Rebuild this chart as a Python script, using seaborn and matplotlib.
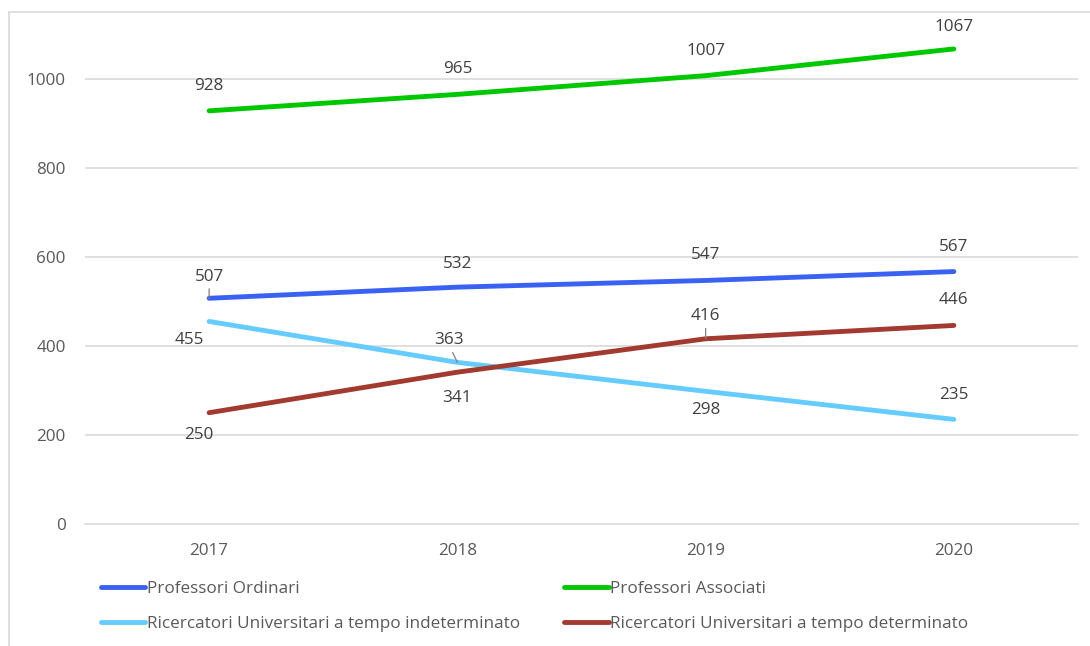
import numpy as np
import pandas as pd
import matplotlib
matplotlib.use('Agg')
import matplotlib.pyplot as plt
from matplotlib.lines import Line2D
import seaborn as sns

years = ['2017', '2018', '2019', '2020']
ordinari = [507, 532, 547, 567]
associati = [928, 965, 1007, 1067]
ric_indet = [455, 363, 298, 235]
ric_det = [250, 341, 416, 446]

series_names = ['Professori Ordinari', 'Professori Associati',
                'Ricercatori Universitari a tempo indeterminato',
                'Ricercatori Universitari a tempo determinato']
colors = ['#3A62F2', '#00C800', '#66CCFF', '#A33A30']

# label offsets in pixels (dx, dy) and whether a leader line is drawn
label_offsets = [
    [(0, 21, True), (0, 23, False), (0, 25, False), (0, 25, False)],
    [(0, 25, False), (0, 25, False), (0, 25, False), (0, 22, False)],
    [(-20, -19, False), (-8, 22, True), (0, -19, False), (0, 24, False)],
    [(-10, -22, False), (0, -26, False), (0, 23, True), (0, 25, False)],
]

df = pd.DataFrame({
    'anno': years * 4,
    'x': list(range(4)) * 4,
    'valore': ordinari + associati + ric_indet + ric_det,
    'serie': sum([[s] * 4 for s in series_names], []),
})

sns.set_theme(style='white')
plt.rcParams['font.family'] = ['Open Sans', 'DejaVu Sans']
grey = '#595959'
fs = 12.3

fig = plt.figure(figsize=(10.9, 6.46), dpi=100)
ax = fig.add_axes([85 / 1090, 1 - 524 / 646, (1078 - 85) / 1090, (524 - 12) / 646])

sns.lineplot(data=df, x='x', y='valore', hue='serie', palette=colors,
             linewidth=3.5, ax=ax, legend=False, solid_capstyle='round')

ax.set_xlim(-0.5, 3.5)
ax.set_ylim(0, 1150)
ax.set_yticks([0, 200, 400, 600, 800, 1000])
ax.set_xticks(range(4))
ax.set_xticklabels(years)
ax.set_xlabel('')
ax.set_ylabel('')
for y in [200, 400, 600, 800, 1000]:
    ax.axhline(y, color='#D9D9D9', lw=1.2, zorder=0)
for s in ['top', 'right', 'left']:
    ax.spines[s].set_visible(False)
ax.spines['bottom'].set_color('#D9D9D9')
ax.spines['bottom'].set_linewidth(1.2)
ax.tick_params(axis='both', length=0, labelsize=fs, labelcolor=grey)
ax.tick_params(axis='y', pad=14)
ax.tick_params(axis='x', pad=14)

vals = [ordinari, associati, ric_indet, ric_det]
for si, serie in enumerate(vals):
    for i, v in enumerate(serie):
        dx, dy, leader = label_offsets[si][i]
        ax.annotate(str(v), xy=(i, v), xytext=(dx, dy), textcoords='offset pixels',
                    ha='center', va='center', fontsize=fs, color='#404040')
        if leader:
            ax.annotate('', xy=(i, v), xytext=(dx * 0.6, dy * 0.45),
                        textcoords='offset pixels',
                        arrowprops=dict(arrowstyle='-', color='#7F7F7F', lw=0.9,
                                        shrinkA=0, shrinkB=0))

# legend filled column by column -> reorder so rows read as in the reference
order = [0, 2, 1, 3]
handles = [Line2D([0], [0], color=colors[k], lw=3.5, solid_capstyle='round') for k in order]
labels = [series_names[k] for k in order]
fig.legend(handles, labels, loc='upper left', bbox_to_anchor=(92 / 1090, 1 - 572 / 646),
           ncol=2, frameon=False, fontsize=fs, labelcolor=grey, handlelength=2.6,
           handletextpad=0.1, columnspacing=2.6, labelspacing=1.12, borderpad=0)

# outer chart frame (only left and top visible)
fig.add_artist(Line2D([9 / 1090, 9 / 1090], [0, 1 - 12 / 646], color='#D9D9D9', lw=1.2))
fig.add_artist(Line2D([9 / 1090, 1], [1 - 12 / 646, 1 - 12 / 646], color='#D9D9D9', lw=1.2))

fig.savefig('out.png', dpi=100, facecolor='white')
